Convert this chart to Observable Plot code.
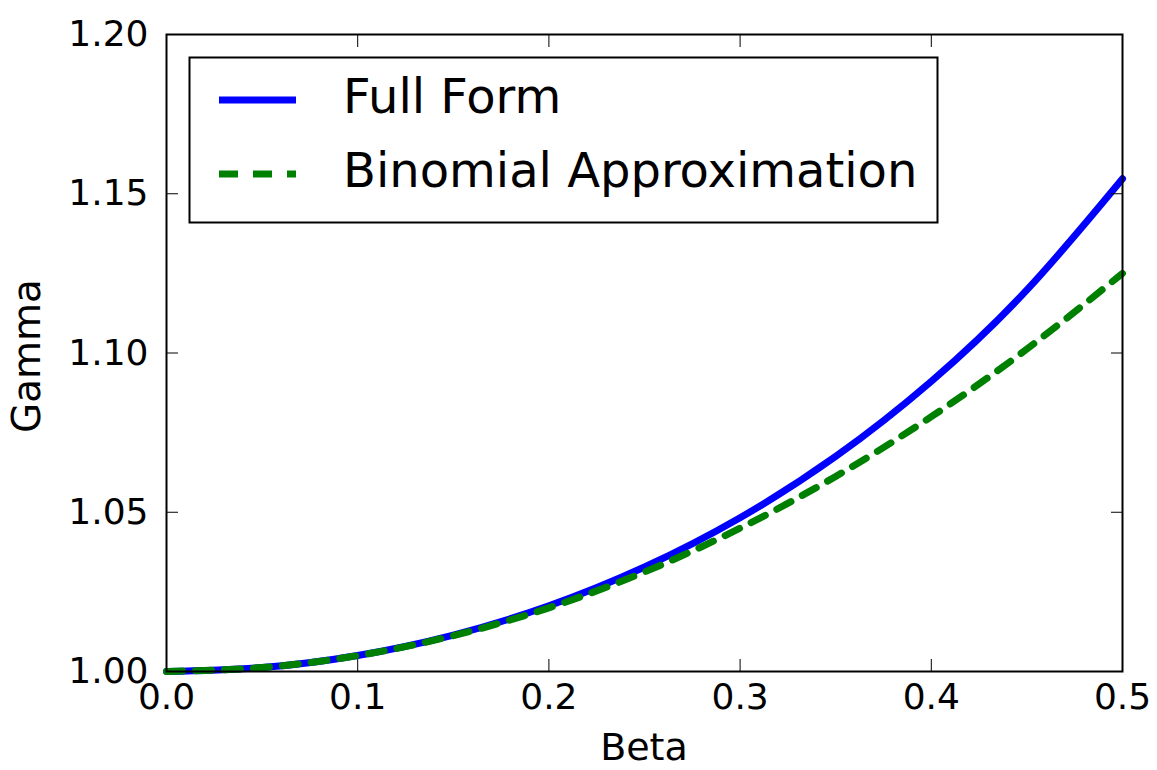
<!DOCTYPE html>
<html>
<head>
<meta charset="utf-8">
<script src="https://cdn.jsdelivr.net/npm/d3@7"></script>
<script src="https://cdn.jsdelivr.net/npm/@observablehq/plot@0.6"></script>
<style>
  html, body { margin: 0; padding: 0; background: #fff; }
  #chart { position: relative; width: 1157px; height: 770px; }
</style>
</head>
<body>
<div id="chart"></div>
<script>
// Data
const beta = [0, 0.05, 0.1, 0.15, 0.2, 0.25, 0.3, 0.35, 0.4, 0.45, 0.5];
const fullForm = [1.0, 1.00125, 1.00504, 1.01144, 1.02062, 1.0328, 1.04828, 1.06752, 1.09109, 1.11979, 1.1547];
const binomial = [1.0, 1.00125, 1.005, 1.01125, 1.02, 1.03125, 1.045, 1.06125, 1.08, 1.10125, 1.125];
const xTicks = [0.0, 0.1, 0.2, 0.3, 0.4, 0.5];
const yTicks = [1.00, 1.05, 1.10, 1.15, 1.20];
const seriesNames = ["Full Form", "Binomial Approximation"];
const seriesColors = ["#0000ff", "#008000"];

const fullData = beta.map((b, i) => ({beta: b, gamma: fullForm[i]}));
const binData = beta.map((b, i) => ({beta: b, gamma: binomial[i]}));

const W = 1157, H = 770;
const plot = Plot.plot({
  width: W,
  height: H,
  marginLeft: 166,
  marginRight: 35,
  marginTop: 34,
  marginBottom: 99,
  style: {fontFamily: "DejaVu Sans", fontSize: "36px", color: "#000", background: "#fff"},
  x: {domain: [0, 0.5]},
  y: {domain: [1.0, 1.2]},
  marks: [
    Plot.line(fullData, {x: "beta", y: "gamma", stroke: seriesColors[0], strokeWidth: 7, curve: "natural"}),
    Plot.line(binData, {x: "beta", y: "gamma", stroke: seriesColors[1], strokeWidth: 7, strokeDasharray: "16,13", curve: "natural"}),
    // inward ticks on all four sides
    Plot.axisX(xTicks, {anchor: "bottom", tickSize: -12, text: null, strokeWidth: 1, label: null}),
    Plot.axisX(xTicks, {anchor: "top", tickSize: -12, text: null, strokeWidth: 1, label: null}),
    Plot.axisY(yTicks, {anchor: "left", tickSize: -12, text: null, strokeWidth: 1, label: null}),
    Plot.axisY(yTicks, {anchor: "right", tickSize: -12, text: null, strokeWidth: 1, label: null}),
    // tick labels
    Plot.axisX(xTicks, {anchor: "bottom", tickSize: 0, tickPadding: 12, tickFormat: d3.format(".1f"), fontSize: 36, label: null}),
    Plot.axisY(yTicks, {anchor: "left", tickSize: 0, tickPadding: 18, tickFormat: d3.format(".2f"), fontSize: 36, label: null}),
    Plot.frame({stroke: "#000", strokeWidth: 2})
  ]
});
document.getElementById("chart").appendChild(plot);

const svg = d3.select(plot);
// axis labels
svg.append("text").attr("x", 644).attr("y", 749).attr("text-anchor", "middle")
  .attr("dominant-baseline", "middle").attr("font-size", 38).attr("font-family", "DejaVu Sans").text("Beta");
svg.append("text").attr("transform", "translate(29,356) rotate(-90)").attr("text-anchor", "middle")
  .attr("dominant-baseline", "middle").attr("font-size", 39).attr("font-family", "DejaVu Sans").text("Gamma");

// legend
const lg = svg.append("g");
lg.append("rect").attr("x", 189.5).attr("y", 57.5).attr("width", 748).attr("height", 165)
  .attr("fill", "#fff").attr("stroke", "#000").attr("stroke-width", 2);
const rowsY = [100, 174];
seriesNames.forEach((name, i) => {
  lg.append("line").attr("x1", 219).attr("x2", 296).attr("y1", rowsY[i]).attr("y2", rowsY[i])
    .attr("stroke", seriesColors[i]).attr("stroke-width", 7)
    .attr("stroke-dasharray", i === 1 ? "19,15" : null);
  lg.append("text").attr("x", 343).attr("y", rowsY[i]).attr("dominant-baseline", "middle")
    .attr("text-anchor", "start")
    .attr("font-size", 48).attr("font-family", "DejaVu Sans").text(name);
});
</script>
</body>
</html>
